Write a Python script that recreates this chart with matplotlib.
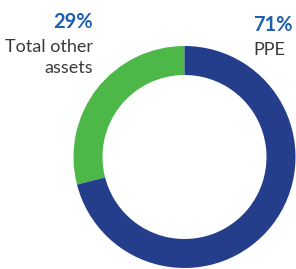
import matplotlib
matplotlib.use("Agg")
import matplotlib.pyplot as plt

labels = ["Total other\nassets", "PPE"]
values = [29, 71]
pct_labels = ["29%", "71%"]
colors = ["#4db848", "#253e8c"]
pct_color = "#1d5fae"
text_color = "#3a3a3a"

W, H = 296, 269
fig = plt.figure(figsize=(W / 100, H / 100), dpi=100)
ax = fig.add_axes([0, 0, 1, 1])

cx, cy, r = 184.5, H - 157, 111
ax.pie(values, colors=colors, startangle=90, counterclock=True,
       center=(cx, cy), radius=r,
       wedgeprops=dict(width=29, edgecolor="none"), frame=True)
ax.set_xlim(0, W)
ax.set_ylim(0, H)
ax.set_aspect("equal")
ax.axis("off")

fam = ["Lato", "DejaVu Sans"]
ax.text(93, H - 28, pct_labels[0], ha="right", va="baseline", fontsize=14.5,
        fontweight="bold", color=pct_color, family=fam)
ax.text(93, H - 52, "Total other", ha="right", va="baseline", fontsize=13,
        fontweight="normal", color=text_color, family=fam)
ax.text(93, H - 73, "assets", ha="right", va="baseline", fontsize=13,
        fontweight="normal", color=text_color, family=fam)
ax.text(253, H - 31, pct_labels[1], ha="left", va="baseline", fontsize=14.5,
        fontweight="bold", color=pct_color, family=fam)
ax.text(253, H - 55, "PPE", ha="left", va="baseline", fontsize=13,
        fontweight="normal", color=text_color, family=fam)

fig.savefig("out.png", dpi=100)
